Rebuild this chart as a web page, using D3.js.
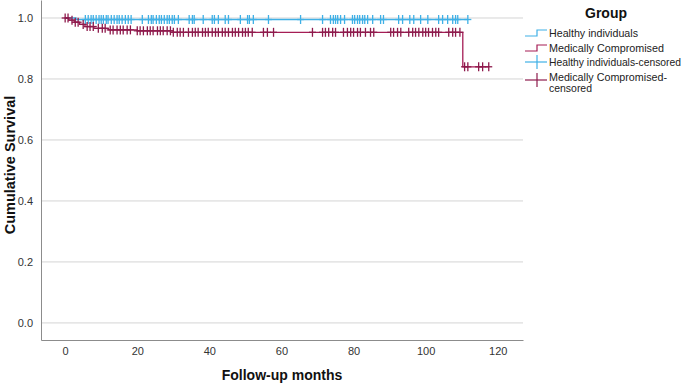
<!DOCTYPE html>
<html>
<head>
<meta charset="utf-8">
<script src="https://cdn.jsdelivr.net/npm/d3@7"></script>
<style>
  body { margin: 0; background: #fff; }
  svg { font-family: "Liberation Sans", Arial, sans-serif; }
</style>
</head>
<body>
<div id="container"></div>
<script>
// Kaplan-Meier steps: [month, survival after event]
const healthyEvents = [[3, 0.995]];
const compromisedEvents = [
  [1, 0.993], [2.5, 0.986], [4, 0.979], [5.5, 0.972], [8, 0.966],
  [12, 0.961], [20, 0.958], [30, 0.953], [110.3, 0.84]
];

// censored times (months)
const healthyCensored = [
  5.6, 6.4, 7.2, 7.8, 8.6, 9.4, 10, 10.6, 11.4, 11.9, 12.8, 13.6, 14.4, 15,
  15.8, 16.7, 17.5, 18.3, 21.4, 23.1, 23.9, 24.4, 25.3, 26.1, 26.7, 27.5,
  28.3, 28.9, 29.7, 30.3, 31.4, 34.4, 35.3, 35.8, 38.3, 40.8, 41.4, 42.5,
  44.4, 45.3, 48.6, 50.6, 51.1, 52.2, 56.4, 65.3, 71.4, 73.6, 74.4, 75,
  75.6, 76.4, 77.5, 79.7, 80.3, 81.1, 81.7, 82.5, 83.1, 83.9, 85.3, 87.5,
  88.3, 92.5, 93.6, 95.6, 96.7, 98.6, 100.6, 103.6, 104.7, 106.1, 107.5,
  108.3, 108.9, 111.7
];
const compromisedCensored = [
  0, 0.8, 1.9, 2.8, 3.6, 5, 6.1, 6.9, 7.8, 9.2, 10.3, 11.1, 12.5, 13.3,
  14.4, 15.3, 16.1, 17.2, 18.1, 20, 20.8, 21.7, 22.8, 23.6, 24.4, 25.6,
  26.4, 27.2, 28.3, 29.2, 30, 31.1, 31.9, 32.8, 34.2, 35.3, 36.1, 36.9,
  38.1, 38.9, 39.7, 40.8, 41.7, 42.5, 43.6, 44.4, 45.3, 46.4, 47.2, 48.1,
  49.2, 50, 50.8, 51.9, 55, 56.1, 57.8, 68.6, 71.4, 72.2, 73.1, 74.2, 75,
  77.2, 78.3, 79.2, 80, 81.1, 81.9, 83.3, 84.7, 85.6, 90.3, 91.1, 92.2,
  93.1, 95.3, 96.4, 97.2, 98.1, 99.2, 100, 100.8, 101.9, 102.8, 103.6,
  106.4, 107.5, 108.3, 109.5, 110.8, 111.7, 114.7, 115.8, 117.5
];

const xTicks = [0, 20, 40, 60, 80, 100, 120];
const yTicks = [0, 0.2, 0.4, 0.6, 0.8, 1.0];
const legendLabels = [
  "Healthy individuals", "Medically Compromised",
  "Healthy individuals-censored", "Medically Compromised-censored"
];

const blue = "#3fb0e6";
const red = "#a51d55";
const redMark = "#8e1a4c";

const width = 685, height = 383;
const margin = { top: 0, right: 162, bottom: 43, left: 41 };

const svg = d3.select("#container").append("svg")
  .attr("width", width).attr("height", height);

const xScale = d3.scaleLinear().domain([-6.7, 127]).range([margin.left, width - margin.right]);
const yScale = d3.scaleLinear().domain([-0.056, 1.059]).range([height - margin.bottom, margin.top]);

// grid
svg.append("g").selectAll("line").data(yTicks).enter().append("line")
  .attr("x1", margin.left).attr("x2", width - margin.right)
  .attr("y1", d => yScale(d)).attr("y2", d => yScale(d))
  .attr("stroke", "#d4d4d4").attr("stroke-width", 1);

// axes
const xAxis = svg.append("g")
  .attr("transform", `translate(0, ${height - margin.bottom})`)
  .call(d3.axisBottom(xScale).tickValues(xTicks).tickSize(0).tickPadding(7).tickFormat(d3.format("d")));
const yAxis = svg.append("g")
  .attr("transform", `translate(${margin.left}, 0)`)
  .call(d3.axisLeft(yScale).tickValues(yTicks).tickSize(0).tickPadding(8).tickFormat(d3.format(".1f")));
[xAxis, yAxis].forEach(a => {
  a.select(".domain").attr("stroke", "#8c8c8c");
  a.selectAll("text").attr("fill", "#333").style("font-size", "11px")
    .style("font-family", "'Liberation Sans', Arial, sans-serif");
});

// step curve helpers
function stepPoints(events, endTime) {
  const pts = [[0, 1]];
  events.forEach(([t, s]) => pts.push([t, s]));
  pts.push([endTime, events[events.length - 1][1]]);
  return pts;
}
function survAt(events, t) {
  let s = 1;
  events.forEach(([et, es]) => { if (et <= t) s = es; });
  return s;
}
const line = d3.line().curve(d3.curveStepAfter)
  .x(d => xScale(d[0])).y(d => yScale(d[1]));

const groups = [
  { events: healthyEvents, cens: healthyCensored, color: blue, mark: blue },
  { events: compromisedEvents, cens: compromisedCensored, color: red, mark: redMark }
];

groups.forEach(g => {
  const end = d3.max(g.cens);
  svg.append("path").datum(stepPoints(g.events, end))
    .attr("fill", "none").attr("stroke", g.color).attr("stroke-width", 1.3)
    .attr("d", line);
});

groups.forEach(g => {
  const marks = svg.append("g").selectAll("g").data(g.cens).enter().append("g")
    .attr("transform", d => `translate(${xScale(d)}, ${yScale(survAt(g.events, d))})`);
  marks.append("line").attr("x1", 0).attr("x2", 0).attr("y1", -4.5).attr("y2", 4.5)
    .attr("stroke", g.mark).attr("stroke-width", 1.3);
  marks.append("line").attr("x1", -3.5).attr("x2", 3.5).attr("y1", 0).attr("y2", 0)
    .attr("stroke", g.mark).attr("stroke-width", 1.3);
});

// axis titles
svg.append("text")
  .attr("x", 282).attr("y", 380).attr("text-anchor", "middle")
  .style("font-size", "14px").style("font-weight", "bold").attr("fill", "#111")
  .text("Follow-up months");
svg.append("text")
  .attr("transform", "translate(15, 165) rotate(-90)").attr("text-anchor", "middle")
  .style("font-size", "14.5px").style("font-weight", "bold").attr("fill", "#111")
  .text("Cumulative Survival");

// legend
const lg = svg.append("g");
lg.append("text").attr("x", 606).attr("y", 18).attr("text-anchor", "middle")
  .style("font-size", "14px").style("font-weight", "bold").attr("fill", "#111")
  .text("Group");

const rowsY = [33, 48, 62, 80];
const legendColors = [blue, red, blue, redMark];
const legendWidths = [89, 115, 132];
const legendFont = "10.5px";
legendLabels.forEach((label, i) => {
  const y = rowsY[i];
  const c = legendColors[i];
  if (i < 2) {
    lg.append("path")
      .attr("d", `M525,${y + 3}H537V${y - 3}H547`)
      .attr("fill", "none").attr("stroke", c).attr("stroke-width", 1.2);
  } else {
    lg.append("line").attr("x1", 525).attr("x2", 547).attr("y1", y).attr("y2", y)
      .attr("stroke", c).attr("stroke-width", 1.2);
    lg.append("line").attr("x1", 537).attr("x2", 537).attr("y1", y - 7).attr("y2", y + 7)
      .attr("stroke", c).attr("stroke-width", 1.2);
  }
  if (i === 3) {
    lg.append("text").attr("x", 549).attr("y", 81).attr("fill", "#222")
      .style("font-size", legendFont).attr("textLength", 118).attr("lengthAdjust", "spacingAndGlyphs")
      .text("Medically Compromised-");
    lg.append("text").attr("x", 549).attr("y", 92).attr("fill", "#222")
      .style("font-size", legendFont).attr("textLength", 43).attr("lengthAdjust", "spacingAndGlyphs")
      .text("censored");
  } else {
    lg.append("text").attr("x", 549).attr("y", y + 4).attr("fill", "#222")
      .style("font-size", legendFont).attr("textLength", legendWidths[i]).attr("lengthAdjust", "spacingAndGlyphs")
      .text(label);
  }
});
</script>
</body>
</html>
